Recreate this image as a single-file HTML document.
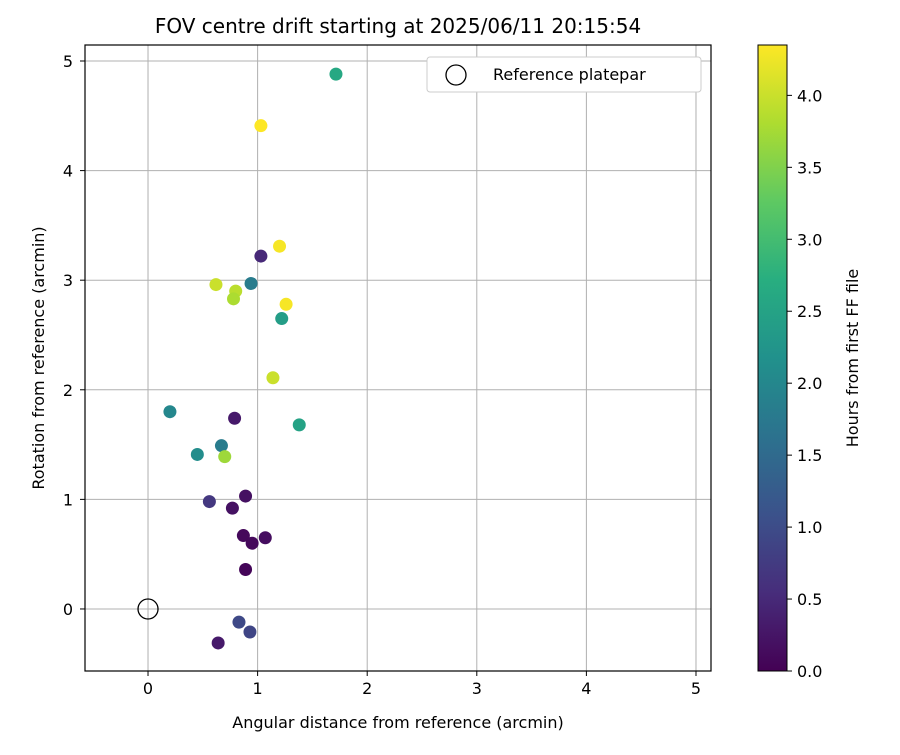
<!DOCTYPE html>
<html><head><meta charset="utf-8"><style>
body{margin:0;background:#fff;}
svg text{font-family:"DejaVu Sans","Liberation Sans",sans-serif;fill:#000;}
</style></head><body>
<svg id="chart" width="900" height="750" xmlns="http://www.w3.org/2000/svg">
<defs><linearGradient id="vir" x1="0" y1="1" x2="0" y2="0">
<stop offset="0" stop-color="#440154"/><stop offset="0.125" stop-color="#472d7b"/><stop offset="0.25" stop-color="#3b528b"/><stop offset="0.375" stop-color="#2c728e"/><stop offset="0.5" stop-color="#21918c"/><stop offset="0.625" stop-color="#28ae80"/><stop offset="0.75" stop-color="#5ec962"/><stop offset="0.875" stop-color="#addc30"/><stop offset="1" stop-color="#fde725"/></linearGradient></defs>
<text x="398" y="33" font-size="20" text-anchor="middle">FOV centre drift starting at 2025/06/11 20:15:54</text>
<g id="grid"></g><g id="pts"></g>
<rect x="85" y="45" width="626" height="626" fill="none" stroke="#000" stroke-width="1.2"/>
<text x="398" y="728" font-size="16" text-anchor="middle">Angular distance from reference (arcmin)</text>
<text transform="translate(44,358) rotate(-90)" font-size="16" text-anchor="middle">Rotation from reference (arcmin)</text>
<g>
<rect x="427" y="57" width="274" height="35" rx="3" fill="#fff" stroke="#ccc"/>
<circle cx="456" cy="75" r="10" fill="none" stroke="#000" stroke-width="1.3"/>
<text x="493" y="80" font-size="16">Reference platepar</text></g>
<rect x="758" y="45" width="29" height="626" fill="url(#vir)" stroke="#000"/>
<g id="cb"></g>
<text transform="translate(858,358) rotate(-90)" font-size="16" text-anchor="middle">Hours from first FF file</text>
</svg>
<script>
const xs=[1.715,1.03,1.20,1.03,0.62,0.94,0.80,0.78,1.26,1.22,1.14,0.20,0.79,1.38,0.67,0.45,0.70,0.56,0.89,0.77,0.87,1.07,0.95,0.89,0.83,0.93,0.64];
const ys=[4.88,4.41,3.31,3.22,2.96,2.97,2.90,2.83,2.78,2.65,2.11,1.80,1.74,1.68,1.49,1.41,1.39,0.98,1.03,0.92,0.67,0.65,0.60,0.36,-0.12,-0.21,-0.31];
const hours=[2.6,4.35,4.3,0.5,4.0,1.8,3.9,3.8,4.3,2.4,4.0,2.0,0.3,2.5,1.8,2.1,3.7,0.7,0.2,0.2,0.1,0.15,0.1,0.05,0.95,0.9,0.3];
const xTicks=[0,1,2,3,4,5];
const yTicks=[0,1,2,3,4,5];
const cTicks=[0,0.5,1,1.5,2,2.5,3,3.5,4];
const X0=-0.575,X1=5.137,Y0=-0.566,Y1=5.146,HMAX=4.35;
const sx=v=>85+(v-X0)/(X1-X0)*626, sy=v=>671-(v-Y0)/(Y1-Y0)*626, sc=v=>671-v/HMAX*626;
const NS="http://www.w3.org/2000/svg";
function mk(t,a,p){const e=document.createElementNS(NS,t);for(const k in a)e.setAttribute(k,a[k]);p.appendChild(e);return e;}
const vir=[[68,1,84],[71,45,123],[59,82,139],[44,114,142],[33,145,140],[40,174,128],[94,201,98],[173,220,48],[253,231,37]];
function col(h){let t=Math.max(0,Math.min(1,h/HMAX))*8,i=Math.min(7,Math.floor(t)),f=t-i;const a=vir[i],b=vir[i+1];return `rgb(${a.map((v,k)=>Math.round(v+(b[k]-v)*f)).join(',')})`;}
const g=document.getElementById('grid'),p=document.getElementById('pts'),cb=document.getElementById('cb');
xTicks.forEach(v=>{const x=sx(v);
const l=mk('line',{x1:x,x2:x,y1:45,y2:671,stroke:'#b0b0b0','stroke-width':1},g);

mk('line',{x1:x,x2:x,y1:671,y2:676,stroke:'#000'},g);
const t=mk('text',{x:x,y:694,'font-size':16,'text-anchor':'middle'},g);t.textContent=v;
});
yTicks.forEach(v=>{const y=sy(v);
const l=mk('line',{x1:85,x2:711,y1:y,y2:y,stroke:'#b0b0b0','stroke-width':1},g);

mk('line',{x1:80,x2:85,y1:y,y2:y,stroke:'#000'},g);
const t=mk('text',{x:73,y:y+6,'font-size':16,'text-anchor':'end'},g);t.textContent=v;
});
xs.forEach((v,i)=>{const c=mk('circle',{cx:sx(v),cy:sy(ys[i]),r:6.5,fill:col(hours[i])},p);
});
const r=mk('circle',{cx:sx(0),cy:sy(0),r:10,fill:'none',stroke:'#000','stroke-width':1.3},p);

cTicks.forEach(v=>{const y=sc(v);
mk('line',{x1:787,x2:792,y1:y,y2:y,stroke:'#000'},cb);
const t=mk('text',{x:797,y:y+6,'font-size':16},cb);t.textContent=v.toFixed(1);
});
</script>
</body></html>
